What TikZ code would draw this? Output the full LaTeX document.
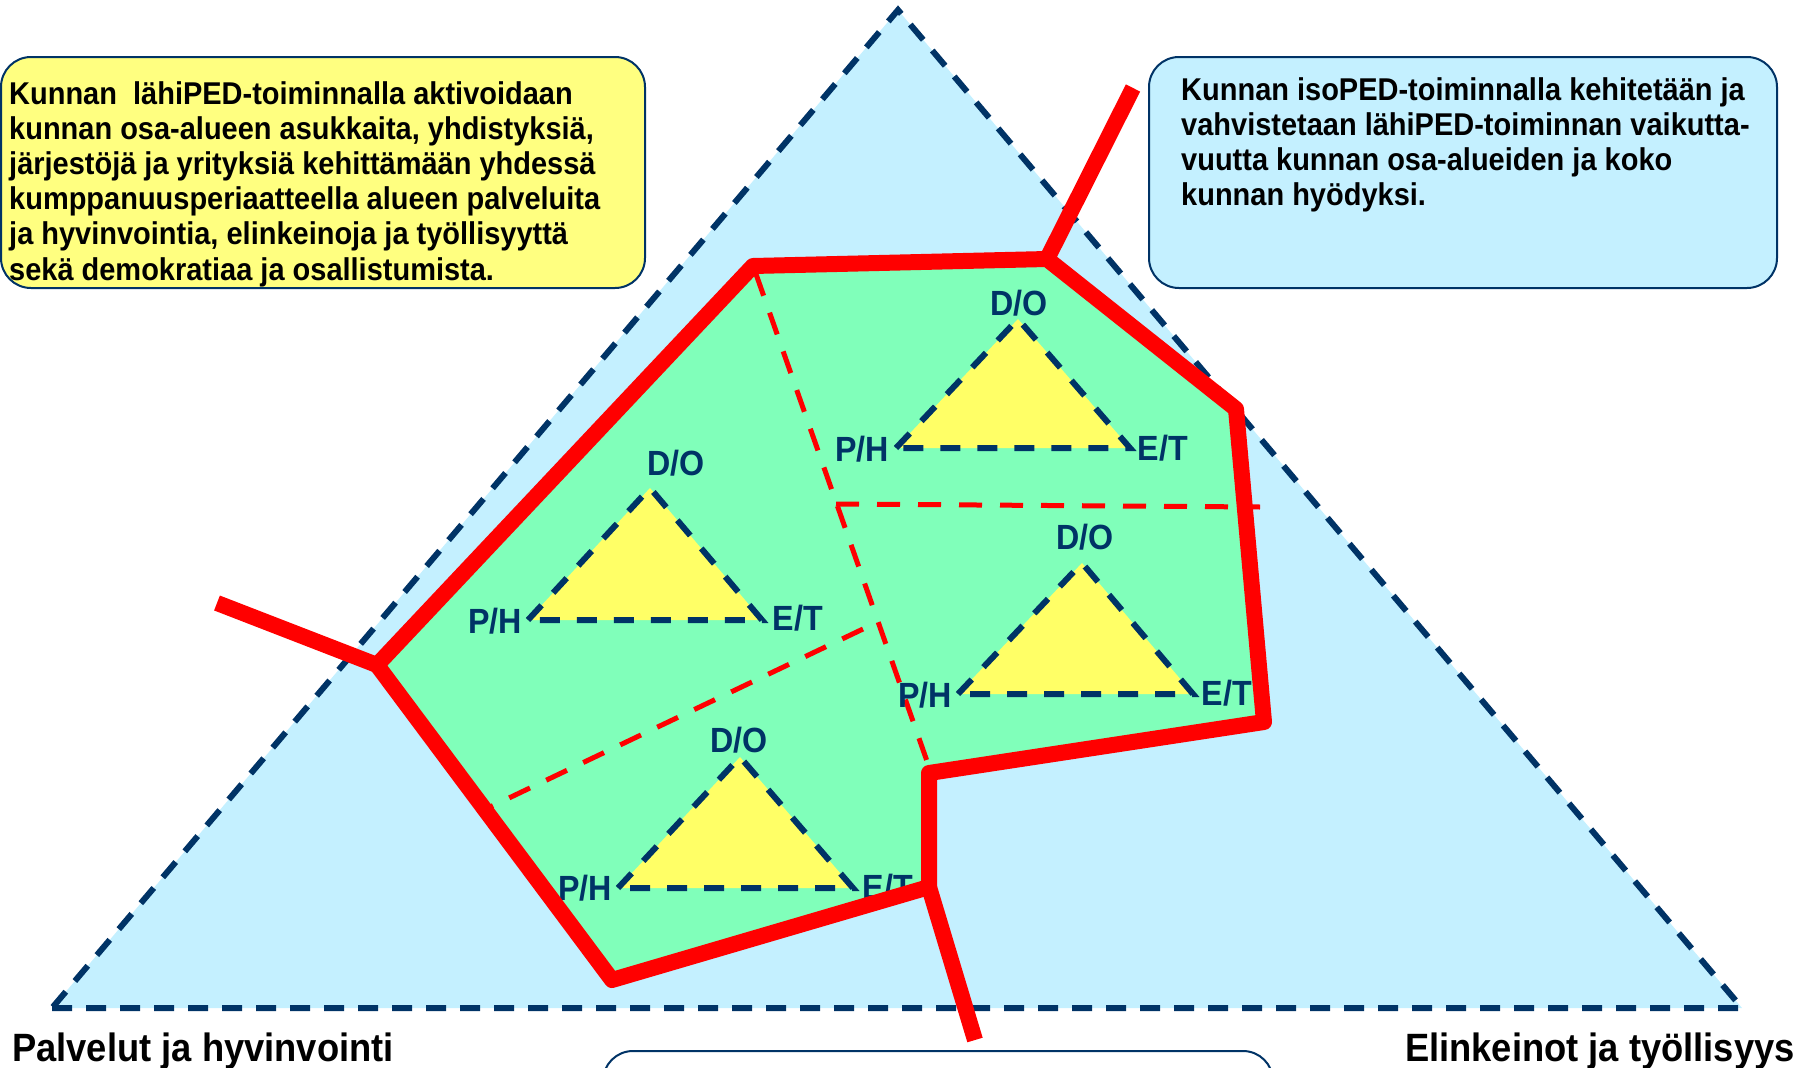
\documentclass[tikz,border=0pt]{standalone}
\usepackage{fontspec}
\setmainfont{Liberation Sans}[FakeStretch=0.92]
\definecolor{navy}{HTML}{003366}
\definecolor{skyfill}{HTML}{C4F0FF}
\definecolor{areafill}{HTML}{80FFBA}
\definecolor{triyellow}{HTML}{FFFF66}
\definecolor{boxyellow}{HTML}{FFFF80}
\tikzset{
  bigtri/.style={draw=navy,line width=6pt,dash pattern=on 20pt off 14pt,fill=skyfill},
  smalltri/.style={draw=navy,line width=6pt,dash pattern=on 20pt off 17pt,fill=triyellow},
  zoneline/.style={draw=red,line width=16pt,line join=round},
  divider/.style={draw=red,line width=5pt,dash pattern=on 23pt off 18pt},
  vertexlabel/.style={text=navy,font=\fontsize{35}{38}\selectfont\bfseries,inner sep=0pt},
  infobox/.style={draw=navy,line width=2pt,rounded corners=30pt},
  boxtext/.style={font=\fontsize{31.5}{35.2}\selectfont\bfseries,align=left,inner sep=0pt,anchor=north west},
  axislabel/.style={font=\fontsize{39.5}{42}\selectfont\bfseries,inner sep=0pt}
}
\begin{document}
\begin{tikzpicture}[x=1pt,y=-1pt]
  \useasboundingbox (0,0) rectangle (1816,1068);

  % big triangle
  \coordinate (top) at (898,10);
  \coordinate (left) at (52,1008);
  \coordinate (right) at (1742,1008);
  \draw[bigtri] (left) -- (right) -- (top) -- cycle;

  % text boxes
  \draw[infobox,fill=boxyellow] (1,57) rectangle (645,288);
  \draw[infobox,fill=skyfill] (1149,57) rectangle (1777,288);
  \draw[infobox,fill=white] (603,1051) rectangle (1273,1120);
  \node[boxtext] (lahitext) at (9,81) {Kunnan \ lähiPED-toiminnalla aktivoidaan\\
    kunnan osa-alueen asukkaita, yhdistyksiä,\\
    järjestöjä ja yrityksiä kehittämään yhdessä\\
    kumppanuusperiaatteella alueen palveluita\\
    ja hyvinvointia, elinkeinoja ja työllisyyttä\\
    sekä demokratiaa ja osallistumista.};
  \node[boxtext] (isotext) at (1181,77) {Kunnan isoPED-toiminnalla kehitetään ja\\
    vahvistetaan lähiPED-toiminnan vaikutta-\\
    vuutta kunnan osa-alueiden ja koko\\
    kunnan hyödyksi.};

  % the area
  \coordinate (a1) at (753,266);
  \coordinate (a2) at (1047,259);
  \coordinate (a3) at (1236,409);
  \coordinate (a4) at (1264,722);
  \coordinate (a5) at (929,773);
  \coordinate (a6) at (929,887);
  \coordinate (a7) at (612,980);
  \coordinate (a8) at (377,665);
  \fill[areafill] (a1) -- (a2) -- (a3) -- (a4) -- (a5) -- (a6) -- (a7) -- (a8) -- cycle;

  % dividers
  \coordinate (s1) at (756,274);
  \coordinate (s2) at (928,764);
  \coordinate (s3) at (836,504);
  \coordinate (s4) at (1260,507);
  \coordinate (s5) at (863,629);
  \coordinate (s6) at (488,808);
  \draw[divider] (s1) -- (s2);
  \draw[divider] (s3) -- (s4);
  \draw[divider] (s5) -- (s6);

  % small triangles
  \coordinate (d1) at (1018,319); \coordinate (p1) at (896,448); \coordinate (e1) at (1130,448);
  \coordinate (d2) at (650,488);  \coordinate (p2) at (528,620); \coordinate (e2) at (762,620);
  \coordinate (d3) at (1082,563); \coordinate (p3) at (958,694); \coordinate (e3) at (1193,694);
  \coordinate (d4) at (740,757);  \coordinate (p4) at (618,888); \coordinate (e4) at (853,888);
  \draw[smalltri] (p1) -- (d1) -- (e1) -- cycle;
  \draw[smalltri] (p2) -- (d2) -- (e2) -- cycle;
  \draw[smalltri] (p3) -- (d3) -- (e3) -- cycle;
  \draw[smalltri] (p4) -- (d4) -- (e4) -- cycle;

  \node[vertexlabel] (do1) at (1019,303) {D/O};
  \node[vertexlabel] (ph1) at (862,449) {P/H};
  \node[vertexlabel] (et1) at (1163,448) {E/T};
  \node[vertexlabel] (do2) at (676,463) {D/O};
  \node[vertexlabel] (ph2) at (495,621) {P/H};
  \node[vertexlabel] (et2) at (798,618) {E/T};
  \node[vertexlabel] (do3) at (1085,537) {D/O};
  \node[vertexlabel] (ph3) at (925,695) {P/H};
  \node[vertexlabel] (et3) at (1227,693) {E/T};
  \node[vertexlabel] (do4) at (739,740) {D/O};
  \node[vertexlabel] (ph4) at (585,888) {P/H};
  \node[vertexlabel] (et4) at (888,887) {E/T};

  % red border and spokes
  \draw[zoneline] (a1) -- (a2) -- (a3) -- (a4) -- (a5) -- (a6) -- (a7) -- (a8) -- cycle;
  \coordinate (k1) at (217,603);
  \coordinate (k2) at (1133,88);
  \coordinate (k3) at (975,1040);
  \draw[zoneline] (a8) -- (k1);
  \draw[zoneline] (a2) -- (k2);
  \draw[zoneline] (a6) -- (k3);

  % corner names
  \node[axislabel,anchor=base west] (palvelut) at (12,1061) {Palvelut ja hyvinvointi};
  \node[axislabel,anchor=base east] (elinkeinot) at (1795,1061) {Elinkeinot ja työllisyys};
\end{tikzpicture}
\end{document}
